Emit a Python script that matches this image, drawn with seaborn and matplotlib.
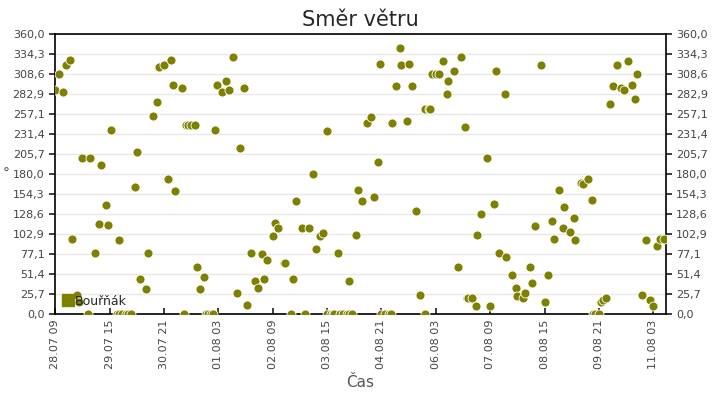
import numpy as np
import pandas as pd
import matplotlib
matplotlib.use("Agg")
import matplotlib.pyplot as plt
import matplotlib.dates as mdates
from matplotlib.lines import Line2D
import seaborn as sns

# Data: hours since 28.07 09:00 and wind direction in degrees
START = pd.Timestamp("2009-07-28 09:00")
hours = [
    0, 2, 4, 6, 8, 9, 12, 13, 15, 18, 19, 22, 24, 25, 28, 29, 31, 34, 35, 35,
    37, 39, 40, 42, 44, 45, 47, 50, 51, 54, 56, 57, 60, 62, 64, 65, 66, 70, 71, 72,
    73, 75, 77, 78, 80, 82, 83, 84, 86, 87, 88, 89, 92, 94, 96, 98, 100, 102, 104, 106,
    108, 110, 112, 114, 115, 117, 120, 121, 123, 126, 127, 130, 131, 133, 136, 138, 140, 142, 144, 146,
    148, 150, 150, 152, 153, 154, 156, 157, 159, 161, 162, 162, 164, 166, 167, 169, 172, 174, 176, 178,
    179, 180, 182, 184, 185, 186, 188, 190, 191, 194, 195, 197, 199, 201, 204, 204, 206, 207, 208, 210,
    212, 214, 216, 217, 220, 222, 224, 226, 227, 228, 230, 232, 233, 235, 238, 240, 242, 243, 245, 248,
    249, 252, 254, 255, 258, 259, 262, 263, 265, 268, 270, 272, 274, 275, 278, 280, 281, 284, 286, 287,
    290, 291, 294, 296, 297, 298, 300, 301, 302, 304, 306, 308, 310, 312, 314, 316, 318, 320, 321, 324,
    326, 328, 330, 332, 334, 336,
]
direction = [
    288, 309, 285, 320, 327, 96, 24, 15, 201, 0, 200, 79, 116, 191, 140, 114, 236, 0, 95, 0,
    0, 0, 0, 0, 163, 208, 45, 32, 79, 254, 272, 317, 320, 173, 327, 294, 158, 290, 0, 243,
    243, 243, 243, 60, 32, 47, 0, 0, 0, 0, 237, 294, 285, 299, 288, 330, 27, 214, 290, 12,
    79, 42, 34, 77, 45, 69, 100, 117, 110, 65, 65, 0, 45, 145, 111, 0, 110, 180, 84, 100,
    104, 235, 0, 0, 0, 0, 78, 0, 0, 0, 43, 0, 0, 101, 159, 145, 246, 253, 150, 195,
    322, 0, 0, 0, 0, 245, 293, 342, 320, 248, 321, 293, 132, 24, 0, 264, 264, 264, 309, 309,
    309, 325, 283, 299, 312, 60, 331, 240, 20, 20, 20, 10, 101, 128, 200, 10, 141, 312, 79, 283,
    73, 50, 33, 23, 20, 27, 61, 40, 113, 320, 16, 50, 119, 97, 159, 110, 137, 106, 123, 95,
    168, 167, 173, 147, 0, 0, 0, 15, 18, 20, 270, 293, 320, 291, 288, 325, 294, 276, 309, 24,
    95, 18, 10, 87, 96, 96,
]
series_name = "Bouřňák"

df = pd.DataFrame({
    "time": START + pd.to_timedelta(hours, unit="h"),
    "dir": direction,
})

sns.set_theme(style="white")
plt.rcParams["font.family"] = ["DejaVu Sans"]

fig = plt.figure(figsize=(7.2, 4.0), dpi=100)
ax = fig.add_axes([0.0764, 0.215, 0.848, 0.70])

sns.scatterplot(data=df, x="time", y="dir", ax=ax, color="#808000",
                edgecolor="white", linewidth=0.6, s=42, legend=False, zorder=3)

# axes limits and ticks
ax.set_xlim(START - pd.Timedelta(minutes=10), START + pd.Timedelta(hours=336.8))
ax.set_ylim(0, 360)
xt = pd.date_range(START, periods=12, freq="30h")
ax.set_xticks(xt)
ax.xaxis.set_major_formatter(mdates.DateFormatter("%d.%m %H"))
yt = np.linspace(0, 360, 15)
ax.set_yticks(yt)
ax.set_yticklabels([f"{v:.1f}".replace(".", ",") for v in yt])

ax.tick_params(axis="x", direction="in", length=4, labelsize=8, labelcolor="#444444",
               labelrotation=90, bottom=True, pad=4)
ax.tick_params(axis="y", length=4, labelsize=8, labelcolor="#444444",
               left=True, right=True, labelright=True, direction="out")

ax.grid(axis="y", color="#e8e8e8", linewidth=1)
ax.grid(axis="x", visible=False)
for sp in ax.spines.values():
    sp.set_color("black")
    sp.set_linewidth(1.2)

ax.set_title("Směr větru", fontsize=15, pad=6)
ax.set_xlabel("Čas", fontsize=11, color="#555555", labelpad=4)
ax.set_ylabel("°", fontsize=10, color="#555555", rotation=0, ha="center", va="center")
ax.yaxis.set_label_coords(-0.08, 0.5)

handle = Line2D([], [], marker="s", color="#808000", linestyle="none", markersize=9)
ax.legend([handle], [series_name], loc="lower left", frameon=False, fontsize=9,
          handletextpad=0.1, borderaxespad=0.2, borderpad=0.3, handlelength=1.0)

fig.savefig("out.png", dpi=100)
